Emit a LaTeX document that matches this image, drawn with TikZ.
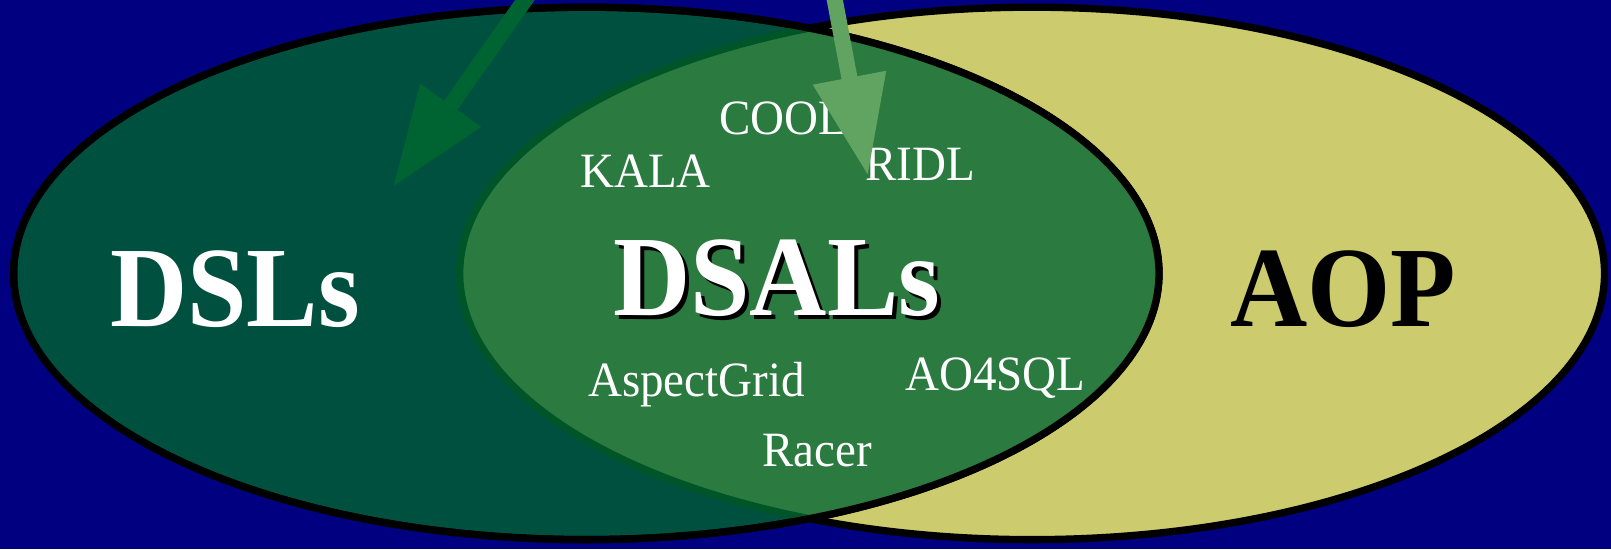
\documentclass[tikz,border=0pt]{standalone}
\usepackage{fontspec}
\setmainfont{Liberation Serif}
\usetikzlibrary{arrows.meta}

\definecolor{navy}{HTML}{000080}
\definecolor{dslteal}{HTML}{005040}
\definecolor{aopyellow}{HTML}{CCCC6E}
\definecolor{dsalgreen}{HTML}{2B7A40}
\definecolor{dsalborder}{HTML}{005528}
\definecolor{arrowdark}{HTML}{006432}
\definecolor{arrowlight}{HTML}{61A361}

% slightly tall lettering
\newcommand{\tallbig}[1]{\scalebox{1}[1.07]{#1}}
\newcommand{\tallsmall}[1]{\scalebox{1}[1.05]{#1}}

\tikzset{
  setline/.style={line width=7.3pt},
  biglabel/.style={inner sep=0pt, anchor=base west,
    font=\bfseries\fontsize{107}{107}\selectfont},
  smalllabel/.style={inner sep=0pt, anchor=base west, text=white,
    font=\fontsize{47}{47}\selectfont},
  pointer/.style={line width=16pt,
    -{Triangle[length=100pt,width=70pt]}},
}

\begin{document}
\begin{tikzpicture}[x=1pt,y=-1pt]
  % background
  \fill[navy] (0,0) rectangle (1611,549);
  \useasboundingbox (0,0) rectangle (1611,549);

  % AOP set
  \filldraw[setline, fill=aopyellow, draw=black]
    (1032.1,273.4) ellipse [x radius=572.4, y radius=266.2];
  % DSLs set
  \filldraw[setline, fill=dslteal, draw=black]
    (586.3,273.4) ellipse [x radius=572.7, y radius=266.2];
  % intersection: DSALs
  \begin{scope}
    \clip (586.3,273.4) ellipse [x radius=572.7, y radius=266.2];
    \filldraw[setline, fill=dsalgreen, draw=dsalborder]
      (1032.1,273.4) ellipse [x radius=572.4, y radius=266.2];
  \end{scope}
  \draw[setline, black]
    (586.3,273.4) ellipse [x radius=572.7, y radius=266.2];

  % set names
  \node[biglabel, text=white] (dsls) at (110,326) {\tallbig{DSLs}};
  \node[biglabel, text=black] (dsalsshadow) at (617,319) {\tallbig{DSALs}};
  \node[biglabel, text=white] (dsals) at (613,315) {\tallbig{DSALs}};
  \node[biglabel, text=black] (aop) at (1230,326) {\tallbig{AOP}};

  % languages
  \node[smalllabel] (cool) at (719,134.6) {\tallsmall{COOL}};
  \node[smalllabel] (kala) at (580,187) {\tallsmall{KALA}};
  \node[smalllabel] (ridl) at (865,180) {\tallsmall{RIDL}};
  \node[smalllabel] (aspectgrid) at (588,396.6) {\tallsmall{AspectGrid}};
  \node[smalllabel] (aosql) at (905,390) {\tallsmall{AO4SQL}};
  \node[smalllabel] (racer) at (762,466) {\tallsmall{Racer}};

  % incoming pointers
  \coordinate (fromA) at (539,-20);
  \coordinate (tipA) at (393,187);
  \coordinate (fromB) at (831,-20);
  \coordinate (tipB) at (868,176);
  \draw[pointer, arrowdark] (fromA) -- (tipA);
  \draw[pointer, arrowlight] (fromB) -- (tipB);
\end{tikzpicture}
\end{document}
